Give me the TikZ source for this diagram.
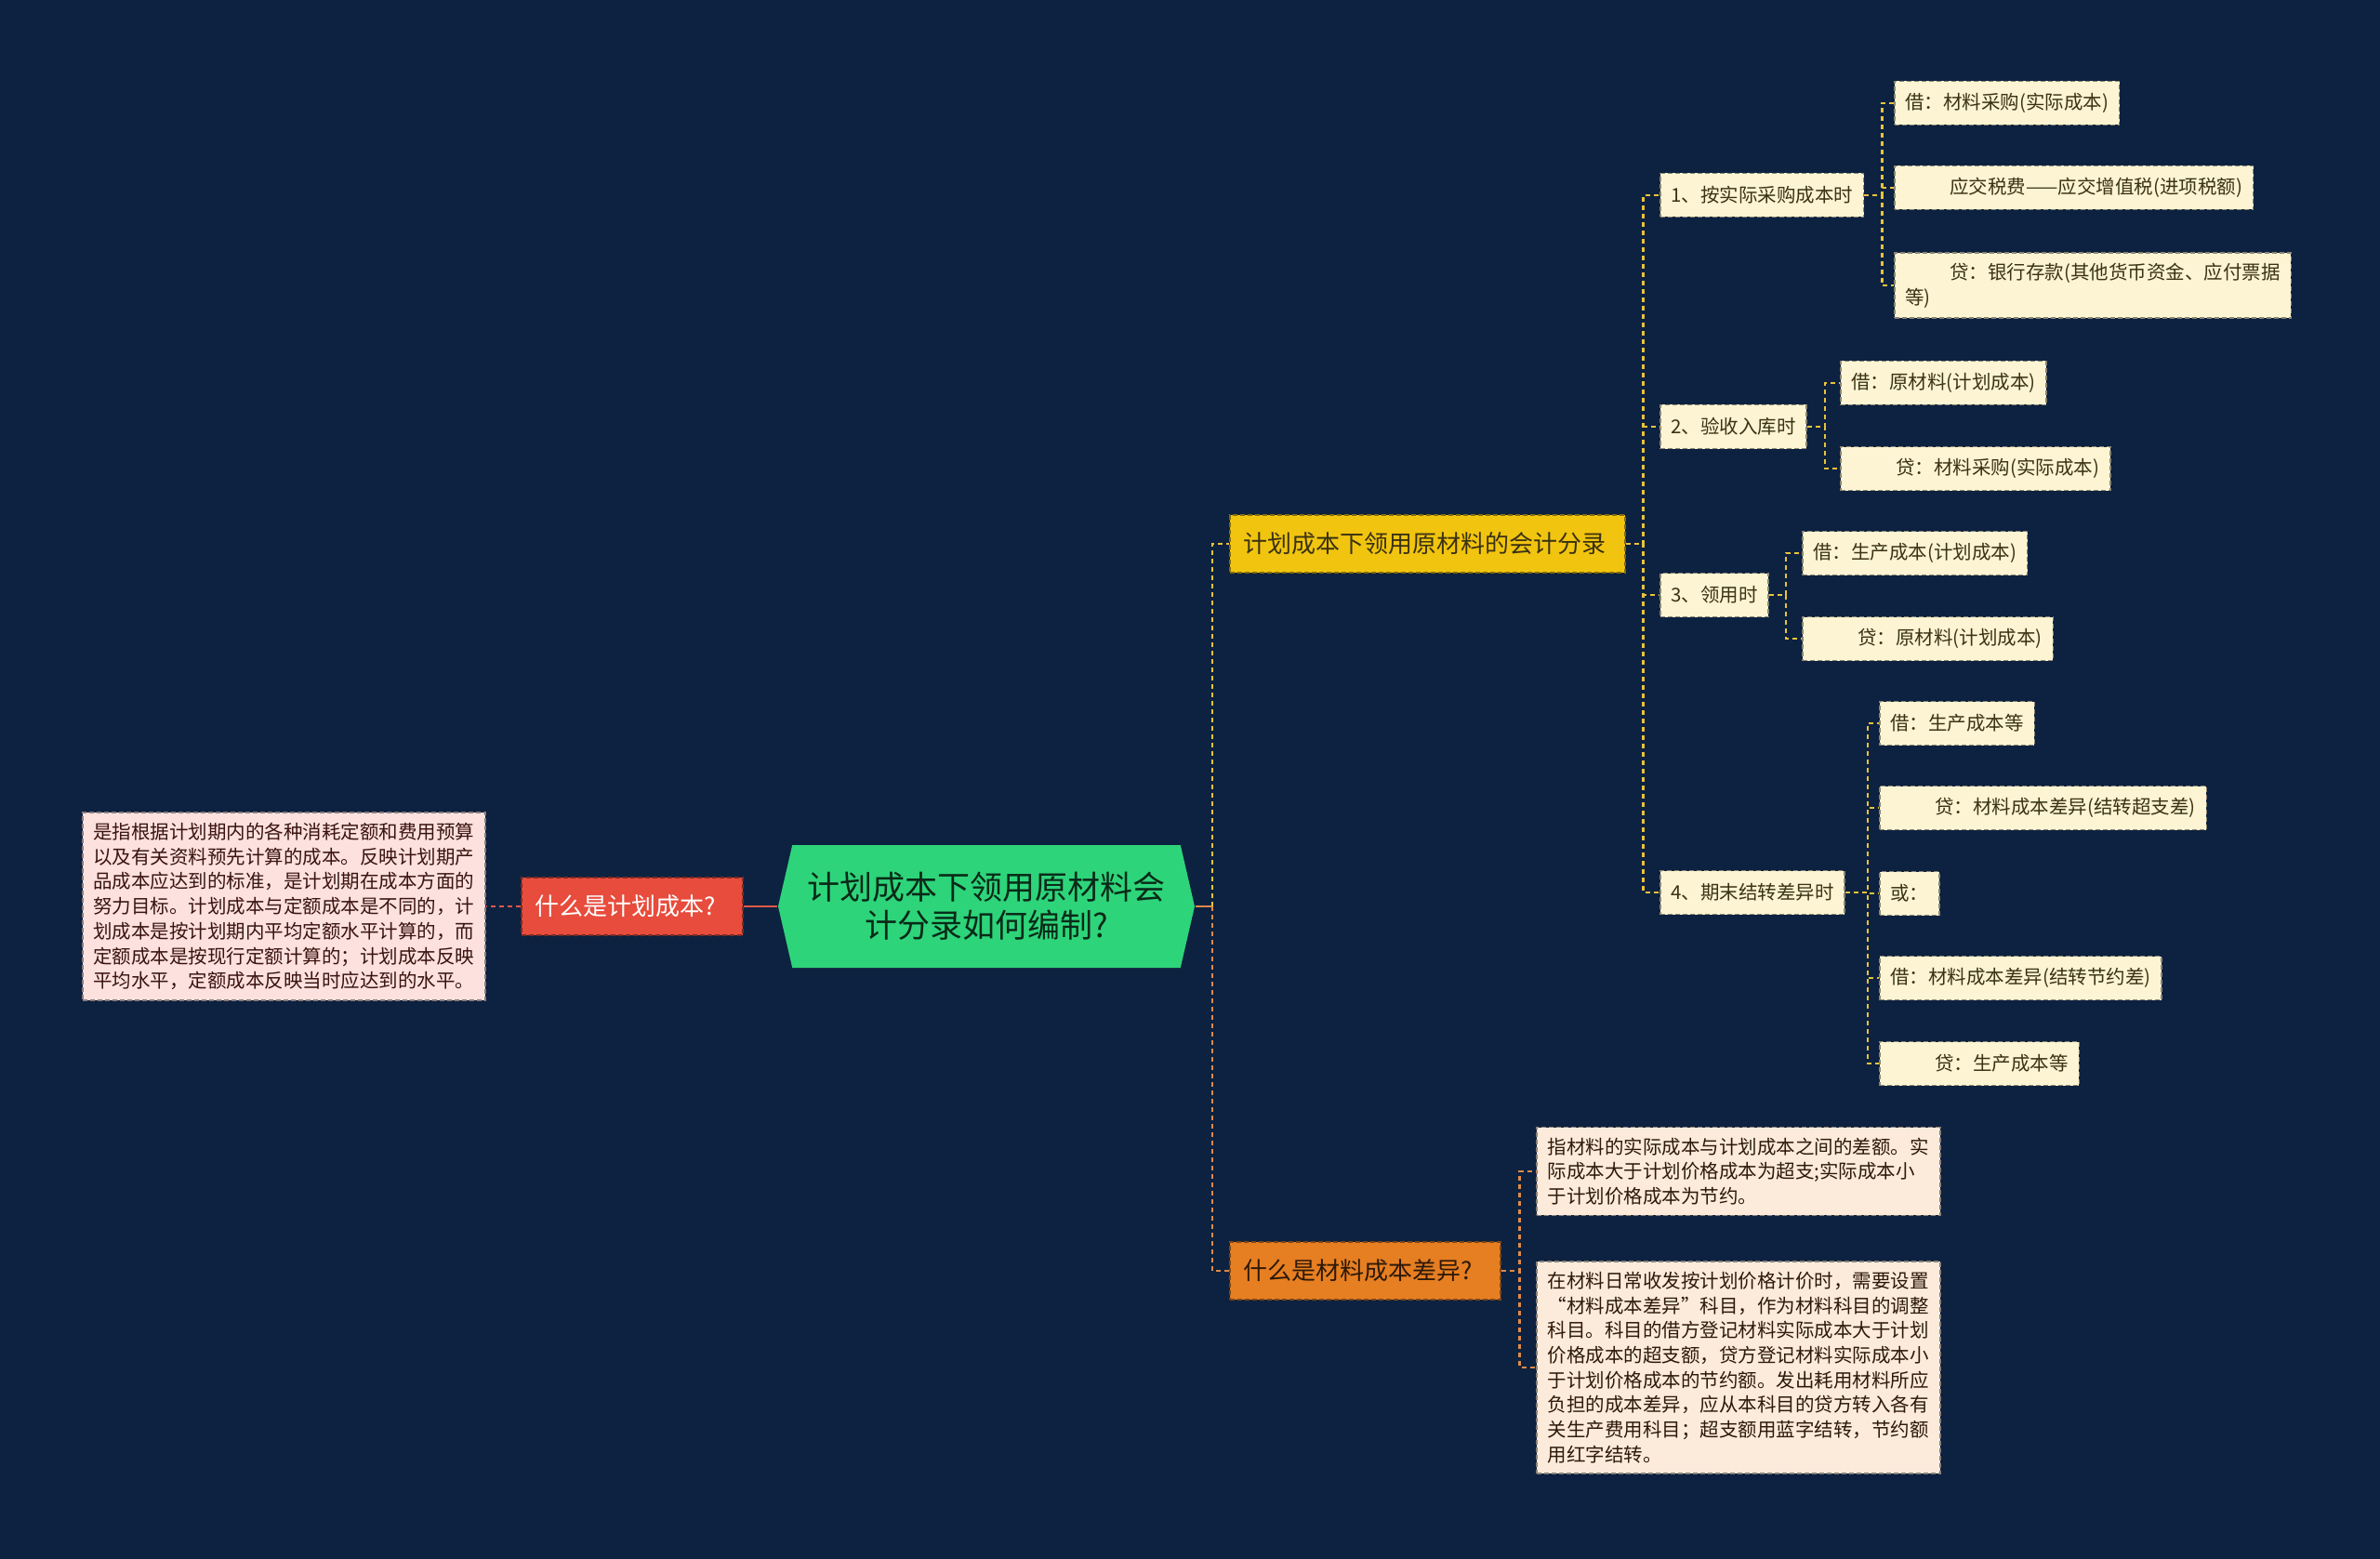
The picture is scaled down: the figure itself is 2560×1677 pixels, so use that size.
\documentclass[tikz,border=0pt]{standalone}
\usepackage{fontspec}
\setmainfont{Noto Sans CJK SC}
\usetikzlibrary{shapes.symbols}
\definecolor{cbg}{HTML}{0D2240}
\definecolor{cgreen}{HTML}{2ED47A}
\definecolor{cred}{HTML}{E74C3C}
\definecolor{cyellow}{HTML}{F1C40F}
\definecolor{corange}{HTML}{E67E22}
\definecolor{ccream}{HTML}{FCF4D2}
\definecolor{cpink}{HTML}{FCE1DE}
\definecolor{cpeach}{HTML}{FCEBDB}
\definecolor{cyline}{HTML}{E9C33A}
\definecolor{coline}{HTML}{DE8A48}
\definecolor{crline}{HTML}{E0574A}
\definecolor{cdark}{HTML}{3A3212}
\newcommand\smallfont{\fontsize{20.5}{26.7}\selectfont}
\newcommand\midfont{\fontsize{26}{32}\selectfont}
\newcommand\rootfont{\fontsize{35}{41}\selectfont}
\newcommand\indnt{\hspace*{2.35em}}
\tikzset{
  every picture/.style={line width=1.5pt},
  box/.style={fill=#1, draw=#1!55!black, dash pattern=on 5pt off 3pt, line width=1.5pt,
    inner xsep=11.5pt, inner ysep=11pt, minimum height=47pt, align=left, font=\smallfont, text=cdark},
  box/.default=ccream,
  topic/.style={box=#1, font=\midfont, minimum height=62pt, align=left, inner xsep=15pt},
  link/.style={draw=#1, line width=2.5pt, dash pattern=on 5pt off 4pt},
}
\begin{document}
\begin{tikzpicture}[x=1pt, y=-1pt]
  \useasboundingbox (0,0) rectangle (2560,1677);
  \fill[cbg] (0,0) rectangle (2560,1677);
  % centre
  \node[signal, signal to=east and west, signal pointer angle=154, fill=cgreen,
    minimum width=448pt, minimum height=132pt, inner sep=0pt, align=center,
    font=\rootfont, text=black!80!cgreen] (root) at (1061,975)
    {计划成本下领用原材料会\\计分录如何编制?};
  % left branch
  \node[topic=cred, text=white, text width=208pt, anchor=west] (plan) at (560,975) {什么是计划成本?};
  \node[box=cpink, text=black!75!cred, anchor=west] (plantext) at (88,975)
    {是指根据计划期内的各种消耗定额和费用预算\\以及有关资料预先计算的成本。反映计划期产\\品成本应达到的标准，是计划期在成本方面的\\努力目标。计划成本与定额成本是不同的，计\\划成本是按计划期内平均定额水平计算的，而\\定额成本是按现行定额计算的；计划成本反映\\平均水平，定额成本反映当时应达到的水平。};
  \draw[crline, line width=2.5pt] (root.west) -- (plan.east);
  \draw[link=crline] (plan.west) -- (plantext.east);
  % right branches
  \node[topic=cyellow, text width=395pt, anchor=west] (entry) at (1322,585) {计划成本下领用原材料的会计分录};
  \node[topic=corange, text=black!80!corange, text width=261pt, anchor=west] (diff) at (1322,1367) {什么是材料成本差异?};
  \draw[coline, line width=2.5pt] (root.east) -- ++(18,0) coordinate (rbus);
  \draw[link=cyline] (rbus) |- (entry.west);
  \draw[link=coline] (rbus) |- (diff.west);
  % steps
  \foreach \i/\y/\txt in {1/210/{1、按实际采购成本时}, 2/459/{2、验收入库时}, 3/640/{3、领用时}, 4/960/{4、期末结转差异时}} {
    \node[box, anchor=west] (step\i) at (1785,\y) {\txt};
    \draw[link=cyline] (entry.east) -- ++(19,0) |- (step\i.west);
  }
  % entries of each step
  \foreach \n/\y/\txt in {a/111/{借：材料采购(实际成本)}, b/202/{\indnt 应交税费——应交增值税(进项税额)}, c/307/{\indnt 贷：银行存款(其他货币资金、应付票据\\等)}} {
    \node[box, anchor=west] (s1\n) at (2037,\y) {\txt};
    \draw[link=cyline] (step1.east) -- ++(19,0) |- (s1\n.west);
  }
  \foreach \n/\y/\txt in {a/412/{借：原材料(计划成本)}, b/504/{\indnt 贷：材料采购(实际成本)}} {
    \node[box, anchor=west] (s2\n) at (1979,\y) {\txt};
    \draw[link=cyline] (step2.east) -- ++(19,0) |- (s2\n.west);
  }
  \foreach \n/\y/\txt in {a/595/{借：生产成本(计划成本)}, b/687/{\indnt 贷：原材料(计划成本)}} {
    \node[box, anchor=west] (s3\n) at (1938,\y) {\txt};
    \draw[link=cyline] (step3.east) -- ++(18,0) |- (s3\n.west);
  }
  \foreach \n/\y/\txt in {a/778/{借：生产成本等}, b/869/{\indnt 贷：材料成本差异(结转超支差)}, c/961/{或：}, d/1052/{借：材料成本差异(结转节约差)}, e/1144/{\indnt 贷：生产成本等}} {
    \node[box, anchor=west] (s4\n) at (2021,\y) {\txt};
    \draw[link=cyline] (step4.east) -- ++(24,0) |- (s4\n.west);
  }
  % material cost difference
  \node[box=cpeach, text=black!80!corange, inner xsep=12pt, anchor=west] (diffa) at (1652,1260)
    {指材料的实际成本与计划成本之间的差额。实\\际成本大于计划价格成本为超支;实际成本小\\于计划价格成本为节约。};
  \node[box=cpeach, text=black!80!corange, inner xsep=12pt, anchor=west] (diffb) at (1652,1471)
    {在材料日常收发按计划价格计价时，需要设置\\“材料成本差异”科目，作为材料科目的调整\\科目。科目的借方登记材料实际成本大于计划\\价格成本的超支额，贷方登记材料实际成本小\\于计划价格成本的节约额。发出耗用材料所应\\负担的成本差异，应从本科目的贷方转入各有\\关生产费用科目；超支额用蓝字结转，节约额\\用红字结转。};
  \draw[link=coline] (diff.east) -- ++(20,0) |- (diffa.west);
  \draw[link=coline] (diff.east) -- ++(20,0) |- (diffb.west);
\end{tikzpicture}
\end{document}
